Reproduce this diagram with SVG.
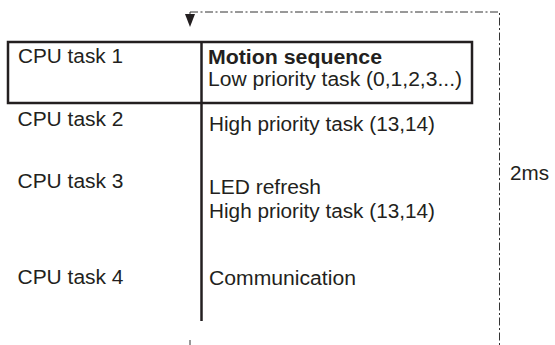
<svg xmlns="http://www.w3.org/2000/svg" width="555" height="345" viewBox="0 0 555 345">
<style>
text{font-family:"Liberation Sans",Arial,sans-serif;font-size:19.5px;fill:#231f20}
.b{font-weight:bold}
.solid{stroke:#231f20;stroke-width:2.5;fill:none}
.dash{stroke:#333;stroke-width:1;fill:none;stroke-dasharray:8 2.5 2 2.5}
</style>
<rect width="555" height="345" fill="#fff"/>
<g id="connectors">
<path class="dash" d="M190,12 H499.5 V345"/>
<line class="dash" x1="190" y1="12" x2="190" y2="16"/>
<polygon points="185,14 195,14 190,27" fill="#231f20"/>
<line class="dash" x1="190" y1="340" x2="190" y2="345"/>
</g>
<g id="frame">
<rect class="solid" x="8" y="42" width="464" height="61"/>
<line class="solid" x1="201.5" y1="42" x2="201.5" y2="321"/>
</g>
<g id="task1">
<text x="18" y="62.5" textLength="105" lengthAdjust="spacingAndGlyphs">CPU task 1</text>
<text class="b" x="208" y="63.5" textLength="174" lengthAdjust="spacingAndGlyphs">Motion sequence</text>
<text x="208" y="85.5" textLength="254" lengthAdjust="spacingAndGlyphs">Low priority task (0,1,2,3...)</text>
</g>
<g id="task2">
<text x="17.5" y="126" textLength="106" lengthAdjust="spacingAndGlyphs">CPU task 2</text>
<text x="209" y="130.5" textLength="226" lengthAdjust="spacingAndGlyphs">High priority task (13,14)</text>
</g>
<g id="task3">
<text x="17.5" y="188" textLength="106" lengthAdjust="spacingAndGlyphs">CPU task 3</text>
<text x="209" y="193.5" textLength="112" lengthAdjust="spacingAndGlyphs">LED refresh</text>
<text x="209" y="218" textLength="226" lengthAdjust="spacingAndGlyphs">High priority task (13,14)</text>
</g>
<g id="task4">
<text x="17.5" y="284" textLength="106" lengthAdjust="spacingAndGlyphs">CPU task 4</text>
<text x="209" y="284.5" textLength="147" lengthAdjust="spacingAndGlyphs">Communication</text>
</g>
<g id="period">
<text x="510" y="180" textLength="39" lengthAdjust="spacingAndGlyphs">2ms</text>
</g>
</svg>
